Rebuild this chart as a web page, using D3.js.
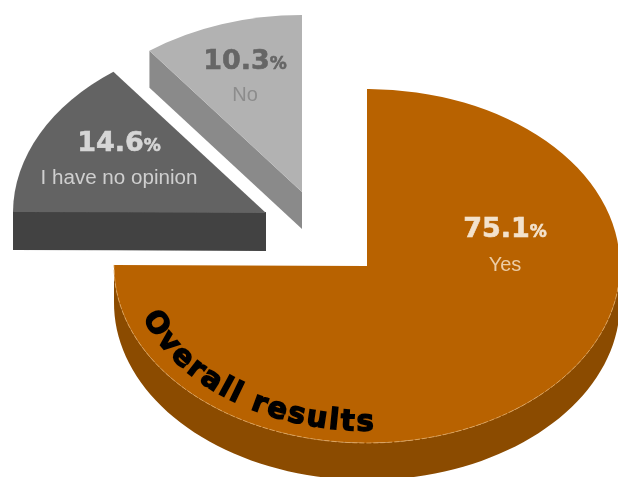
<!DOCTYPE html>
<html><head><meta charset="utf-8">
<script src="https://cdn.jsdelivr.net/npm/d3@7"></script>
<style>html,body{margin:0;padding:0;background:#fff}svg{display:block}</style>
</head><body><svg id="c" width="618" height="477"></svg>
<script>
const categories = ["Yes", "I have no opinion", "No"];
const shares = [75.1, 14.6, 10.3];
const shareLabels = ["75.1", "14.6", "10.3"];
const chartTitle = "Overall results";

const W = 618, H = 477, RX = 253, RY = 177, TAU = Math.PI * 2;
const centres = [[367, 266], [266, 213], [302, 192]];
const depths = [37, 38, 37];
const topCol = ["#b86200", "#646464", "#b2b2b2"];
const sideCol = ["#8b4b02", "#424242", "#8a8a8a"];
const pctCol = ["#f3e2cc", "#d6d6d6", "#666666"];
const nameCol = ["#eccda6", "#cfcfcf", "#8c8c8c"];
const labelPos = [[505, 237, 271], [119, 151, 184], [245, 69, 101]];

const svg = d3.select("#c");
const defs = svg.append("defs");
defs.append("filter").attr("id", "soft").attr("x", "-5%").attr("y", "-5%").attr("width", "110%").attr("height", "110%")
  .append("feGaussianBlur").attr("stdDeviation", 0.55);
const root = svg.append("g").attr("filter", "url(#soft)");

const arcs = d3.pie().sort(null).value(d => d)(shares);
const unitArc = d3.arc().innerRadius(0).outerRadius(1);
const px = a => RX * Math.sin(a), py = a => -RY * Math.cos(a);
const line = d3.line();
const samples = (a, b, n = 80) => d3.range(n + 1).map(i => a + (b - a) * i / n);

arcs.forEach((s, i) => {
  const [cx, cy] = centres[i], d = depths[i];
  const g = root.append("g").attr("transform", `translate(${cx},${cy})`);
  const pts = [];
  if (i === 0) {
    const as = samples(Math.PI / 2, s.endAngle);
    as.forEach(a => pts.push([px(a), py(a)]));
    as.slice().reverse().forEach(a => pts.push([px(a), py(a) + d]));
    g.append("path").attr("d", line(pts) + "Z").attr("fill", sideCol[i]);
  } else if (i === 1) {
    const a = s.startAngle;
    g.append("path").attr("d", line([[px(a), py(a) - 1], [0, -1], [0, d], [px(a), py(a) + d]]) + "Z").attr("fill", sideCol[i]);
  } else {
    const a = s.startAngle;
    g.append("path").attr("d", line([[px(a), py(a)], [0, 0], [0, d], [px(a), py(a) + d]]) + "Z").attr("fill", sideCol[i]);
  }
  g.append("g").attr("transform", `scale(${RX},${RY})`)
    .append("path").attr("d", unitArc(s)).attr("fill", topCol[i]);
  if (i === 0) {
    const rim = samples(Math.PI / 2, s.endAngle).map(a => [px(a), py(a)]);
    g.append("path").attr("d", line(rim)).attr("fill", "none")
      .attr("stroke", "#e2a860").attr("stroke-width", 0.8).attr("stroke-dasharray", "5 2");
  }
});

const pctFont = "'DejaVu Sans', Verdana, sans-serif";
categories.forEach((c, i) => {
  const [x, y1, y2] = labelPos[i];
  const t = root.append("text").attr("x", x).attr("y", y1).attr("text-anchor", "middle")
    .attr("font-family", pctFont).attr("font-weight", 700).attr("fill", pctCol[i])
    .attr("stroke", pctCol[i]).attr("stroke-width", 0.6);
  t.append("tspan").attr("font-size", 27).text(shareLabels[i]);
  t.append("tspan").attr("font-size", 17).text("%");
  const n = root.append("text").attr("x", x).attr("y", y2).attr("text-anchor", "middle")
    .attr("font-family", "'Liberation Sans', Arial, sans-serif").attr("font-size", 20)
    .attr("fill", nameCol[i]).text(c);
  if (c.length > 5) n.attr("textLength", 157).attr("lengthAdjust", "spacingAndGlyphs");
});

const [mx, my] = centres[0];
const tr = 0.93;
const titlePts = samples(arcs[0].endAngle - 0.02, Math.PI * 0.8, 120)
  .map(a => [mx + tr * px(a), my + tr * py(a)]);
defs.append("path").attr("id", "titlePath").attr("d", d3.line().curve(d3.curveCatmullRom)(titlePts));
root.append("text").attr("font-family", pctFont).attr("font-weight", 700).attr("font-size", 29)
  .attr("letter-spacing", 2.2)
  .attr("fill", "#050300").attr("stroke", "#050300").attr("stroke-width", 1.5)
  .append("textPath").attr("href", "#titlePath").attr("startOffset", 50).text(chartTitle);
</script></body></html>
